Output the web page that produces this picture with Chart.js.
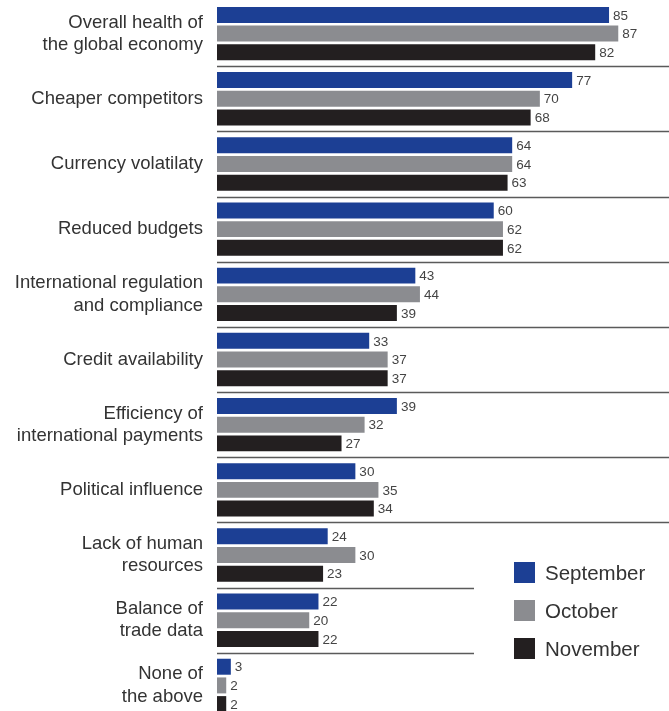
<!doctype html>
<html>
    <head>
        <meta charset="UTF-8" />
        <script src="https://cdn.jsdelivr.net/npm/chart.js"></script>
        <style>
            html, body { margin: 0; padding: 0; background: #fff; overflow: hidden; }
            #wrap { position: relative; width: 669px; height: 711px; }
            canvas { position: absolute; left: 0; top: 0; }
            .legend { position: absolute; left: 514px; top: 562px; font-family: "Liberation Sans", Arial, sans-serif; font-size: 20.5px; color: #333; }
            .legend div { display: flex; align-items: center; height: 21px; margin-bottom: 17px; }
            .legend span { display: inline-block; width: 21px; height: 21px; margin-right: 10px; }
        </style>
    </head>
    <body>
        <div id="wrap">
            <canvas id="chart" width="669" height="718"></canvas>
            <div class="legend" id="legend"></div>
        </div>
        <script>
            const categories = [
                ["Overall health of", "the global economy"],
                "Cheaper competitors",
                "Currency volatilaty",
                "Reduced budgets",
                ["International regulation", "and compliance"],
                "Credit availability",
                ["Efficiency of", "international payments"],
                "Political influence",
                ["Lack of human", "resources"],
                ["Balance of", "trade data"],
                ["None of", "the above"],
            ];
            const september = [85, 77, 64, 60, 43, 33, 39, 30, 24, 22, 3];
            const october = [87, 70, 64, 62, 44, 37, 32, 35, 30, 20, 2];
            const november = [82, 68, 63, 62, 39, 37, 27, 34, 23, 22, 2];
            const seriesNames = ["September", "October", "November"];
            const colors = ["#1c3f94", "#8b8c90", "#231f20"];

            // separators between categories, the last two stop before the legend
            const separators = {
                id: "separators",
                afterDatasetsDraw(chart) {
                    const y = chart.scales.y;
                    const area = chart.chartArea;
                    const ctx = chart.ctx;
                    ctx.save();
                    ctx.strokeStyle = "#5a5a5a";
                    ctx.lineWidth = 1.5;
                    for (let i = 0; i < categories.length - 1; i++) {
                        const py = Math.round((y.getPixelForValue(i) + y.getPixelForValue(i + 1)) / 2) + 0.5;
                        const right = i >= 8 ? 474 : area.right;
                        ctx.beginPath();
                        ctx.moveTo(area.left, py);
                        ctx.lineTo(right, py);
                        ctx.stroke();
                    }
                    ctx.restore();
                },
            };

            const valueLabels = {
                id: "valueLabels",
                afterDatasetsDraw(chart) {
                    const ctx = chart.ctx;
                    ctx.save();
                    ctx.font = "13.5px 'Liberation Sans', Arial, sans-serif";
                    ctx.fillStyle = "#444";
                    ctx.textAlign = "left";
                    ctx.textBaseline = "middle";
                    chart.data.datasets.forEach((ds, di) => {
                        chart.getDatasetMeta(di).data.forEach((bar, i) => {
                            ctx.fillText(ds.data[i], bar.x + 4, bar.y + 1);
                        });
                    });
                    ctx.restore();
                },
            };

            new Chart(document.getElementById("chart"), {
                type: "bar",
                data: {
                    labels: categories,
                    datasets: [september, october, november].map((d, i) => ({
                        label: seriesNames[i],
                        data: d,
                        backgroundColor: colors[i],
                        categoryPercentage: 0.86,
                        barPercentage: 0.855,
                    })),
                },
                options: {
                    indexAxis: "y",
                    responsive: false,
                    animation: false,
                    devicePixelRatio: 1,
                    layout: { padding: { top: 1, right: 0, bottom: 0, left: 0 } },
                    plugins: { legend: { display: false }, tooltip: { enabled: false } },
                    scales: {
                        x: { display: false, min: 0, max: 98 },
                        y: {
                            grid: { display: false, drawTicks: false },
                            border: { display: false },
                            afterFit(scale) {
                                scale.width = 217;
                                scale.paddingTop = 0;
                                scale.paddingBottom = 0;
                            },
                            ticks: {
                                padding: 14,
                                color: "#333",
                                font: { family: "'Liberation Sans', Arial, sans-serif", size: 18.5 },
                            },
                        },
                    },
                },
                plugins: [separators, valueLabels],
            });

            const legend = document.getElementById("legend");
            seriesNames.forEach((name, i) => {
                const row = document.createElement("div");
                row.innerHTML = '<span style="background:' + colors[i] + '"></span>' + name;
                legend.appendChild(row);
            });
        </script>
    </body>
</html>
